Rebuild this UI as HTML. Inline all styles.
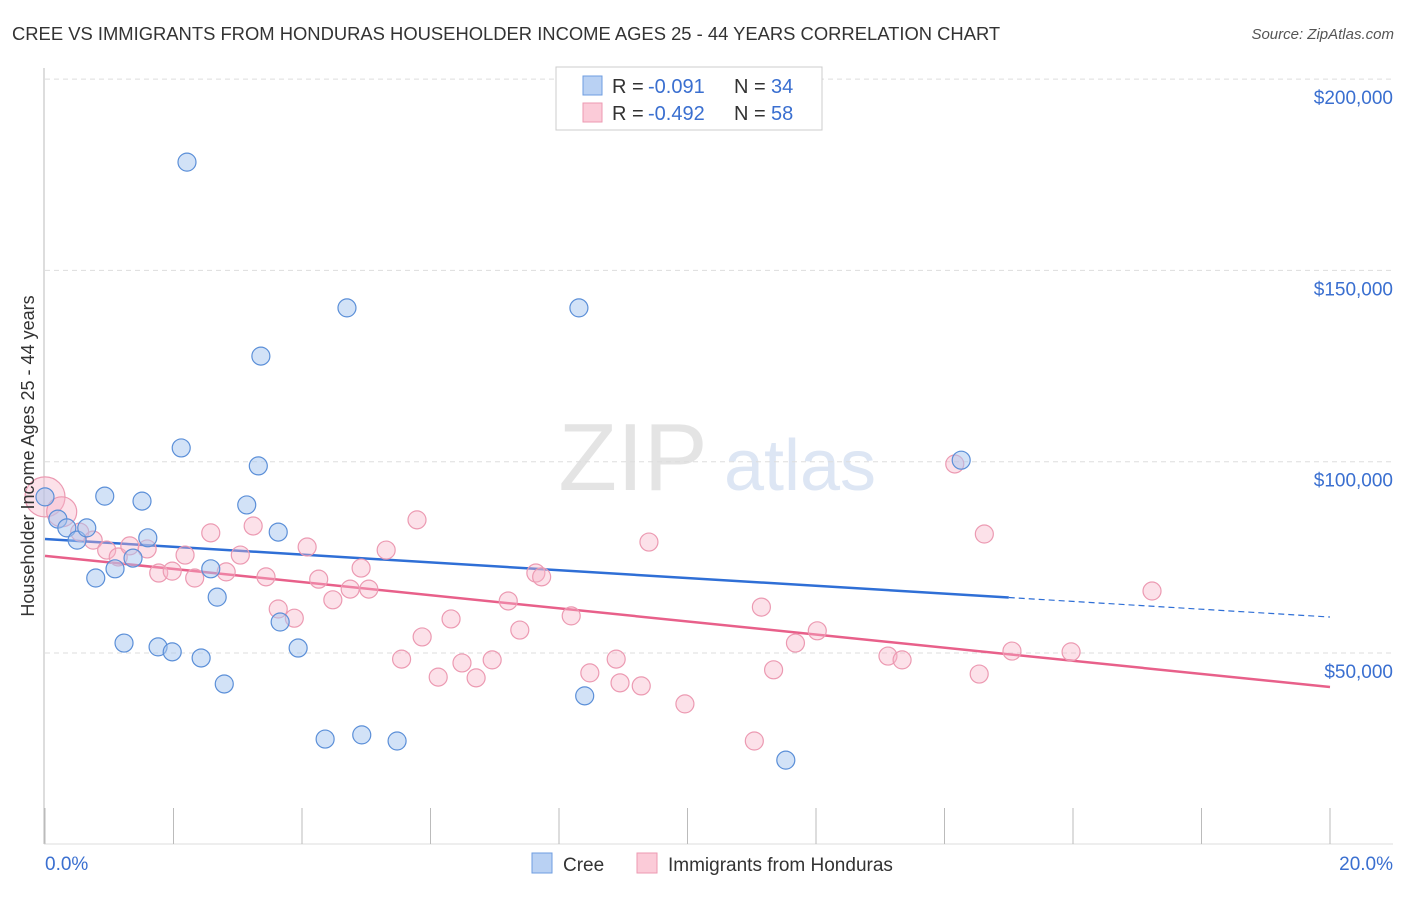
<!DOCTYPE html>
<html><head><meta charset="utf-8"><style>
body{margin:0;background:#fff;font-family:"Liberation Sans",sans-serif;}
svg text{font-family:"Liberation Sans",sans-serif;}
</style></head><body>
<svg id="chart" width="1406" height="892">
<text x="12" y="40" font-size="18.4" fill="#333">CREE VS IMMIGRANTS FROM HONDURAS HOUSEHOLDER INCOME AGES 25 - 44 YEARS CORRELATION CHART</text>
<text x="1394" y="39" font-size="15" fill="#555" text-anchor="end" font-style="italic">Source: ZipAtlas.com</text>
<text x="633" y="490" font-size="96" fill="#e4e4e4" font-family="Liberation Serif" text-anchor="middle">ZIP</text>
<text x="800" y="490" font-size="72" fill="#dde6f4" text-anchor="middle">atlas</text>
<g id="grid"></g><g id="axes"></g><g id="lines"></g><g id="pts"></g>
<text transform="translate(34,456) rotate(-90)" font-size="18" fill="#333" text-anchor="middle">Householder Income Ages 25 - 44 years</text>
<g>
<rect x="556" y="67" width="266" height="63" fill="#fff" stroke="#ccc"/>
<rect x="583" y="76" width="19" height="19" fill="#b9d1f3" stroke="#6e9de0"/>
<text x="612" y="93" font-size="20" fill="#333">R =</text>
<text x="648" y="93" font-size="20" fill="#3a6fd0">-0.091</text>
<text x="734" y="93" font-size="20" fill="#333">N =</text>
<text x="771" y="93" font-size="20" fill="#3a6fd0">34</text>
<rect x="583" y="103" width="19" height="19" fill="#fbcbd8" stroke="#ec9ab2"/>
<text x="612" y="120" font-size="20" fill="#333">R =</text>
<text x="648" y="120" font-size="20" fill="#3a6fd0">-0.492</text>
<text x="734" y="120" font-size="20" fill="#333">N =</text>
<text x="771" y="120" font-size="20" fill="#3a6fd0">58</text>
</g>
<g>
<rect x="532" y="853" width="20" height="20" fill="#b9d1f3" stroke="#6e9de0"/>
<text x="563" y="871" font-size="19" fill="#333">Cree</text>
<rect x="637" y="853" width="20" height="20" fill="#fbcbd8" stroke="#ec9ab2"/>
<text x="668" y="871" font-size="19" fill="#333">Immigrants from Honduras</text>
</g>
</svg>
<script>
const yTicks=[50000,100000,150000,200000];
const yTickLabels=["$50,000","$100,000","$150,000","$200,000"];
const xTickVals=[0,2,4,6,8,10,12,14,16,18,20];
const creeX=[0,0.2,0.34,0.5,0.65,0.79,0.93,1.09,1.37,1.51,1.6,1.23,1.76,1.98,2.12,2.21,2.43,2.58,2.68,2.79,3.14,3.32,3.36,3.63,3.66,3.94,4.36,4.7,4.93,5.48,8.31,8.4,11.53,14.26];
const creeY=[90.8,85.0,82.7,79.5,82.7,69.6,91.0,72.0,74.8,89.7,80.1,52.6,51.6,50.3,103.6,178.3,48.7,72.0,64.6,41.9,88.7,98.9,127.6,81.6,58.1,51.3,27.5,140.2,28.6,27.0,140.2,38.8,22.0,100.4];
const hondX=[0,0.26,0.54,0.75,0.96,1.14,1.32,1.59,1.77,1.98,2.18,2.33,2.58,2.82,3.04,3.24,3.44,3.63,3.88,4.08,4.26,4.48,4.75,4.92,5.04,5.31,5.55,5.79,5.87,6.12,6.32,6.49,6.71,6.96,7.21,7.39,7.64,7.73,8.19,8.48,8.89,8.95,9.28,9.4,9.96,11.04,11.15,11.34,11.68,12.02,13.12,13.34,14.16,14.54,14.62,15.05,15.97,17.23];
const hondY=[90.8,86.9,81.6,79.5,76.9,75.1,78.0,77.2,70.9,71.4,75.6,69.6,81.4,71.2,75.6,83.2,69.9,61.5,59.1,77.7,69.3,63.9,66.7,72.2,66.7,76.9,48.4,84.8,54.2,43.7,58.9,47.4,43.5,48.2,63.6,56.0,70.9,69.9,59.7,44.8,48.4,42.2,41.4,79.0,36.7,27.0,62.0,45.6,52.6,55.8,49.2,48.2,99.4,44.5,81.1,50.5,50.3,66.2];
const hondR=[20,15];
const creeTrend=[79.8,59.4];
const hondTrend=[75.4,41.1];
const creeSolidEnd=15;
const NS="http://www.w3.org/2000/svg";
const xs=p=>45+p*64.25;
const ys=k=>653-(k-50)*3.826;
function mk(tag,at,parent){const e=document.createElementNS(NS,tag);for(const k in at)e.setAttribute(k,at[k]);document.getElementById(parent).appendChild(e);return e;}
yTicks.forEach((v,i)=>{const y=ys(v/1000);
 const l=mk('line',{x1:45,x2:1393,y1:y,y2:y,stroke:'#ddd','stroke-dasharray':'5,4'},'grid');
 
 
 const t=mk('text',{x:1393,y:y+25,'font-size':19,fill:'#3a6fd0','text-anchor':'end'},'grid');t.textContent=yTickLabels[i];
 
 
});
const ax=mk('line',{x1:44,x2:44,y1:68,y2:844,stroke:'#bbb'},'axes');


const bx=mk('line',{x1:44,x2:1393,y1:844,y2:844,stroke:'#ddd'},'axes');


xTickVals.forEach(v=>{const x=xs(v);const t=mk('line',{x1:x,x2:x,y1:808,y2:844,stroke:'#bbb'},'axes');
 
 });
let t0=mk('text',{x:45,y:870,'font-size':19,fill:'#3a6fd0'},'axes');t0.textContent='0.0%';


let t1=mk('text',{x:1393,y:870,'font-size':19,fill:'#3a6fd0','text-anchor':'end'},'axes');t1.textContent='20.0%';


const lin=(tr,x)=>tr[0]+(tr[1]-tr[0])*x/20;
let bl=mk('line',{x1:xs(0),y1:ys(lin(creeTrend,0)),x2:xs(creeSolidEnd),y2:ys(lin(creeTrend,creeSolidEnd)),stroke:'#2f6fd6','stroke-width':2.5},'lines');


let bd=mk('line',{x1:xs(creeSolidEnd),y1:ys(lin(creeTrend,creeSolidEnd)),x2:xs(20),y2:ys(lin(creeTrend,20)),stroke:'#2f6fd6','stroke-width':1.2,'stroke-dasharray':'6,4'},'lines');


let pl=mk('line',{x1:xs(0),y1:ys(lin(hondTrend,0)),x2:xs(20),y2:ys(lin(hondTrend,20)),stroke:'#e8608a','stroke-width':2.5},'lines');


hondX.forEach((x,i)=>{const c=mk('circle',{cx:xs(x),cy:ys(hondY[i]),r:hondR[i]||9,fill:'rgba(248,180,200,0.4)',stroke:'#ec9ab2','stroke-width':1.2},'pts');
 
 });
creeX.forEach((x,i)=>{const c=mk('circle',{cx:xs(x),cy:ys(creeY[i]),r:9,fill:'rgba(165,198,240,0.5)',stroke:'#5b8fd8','stroke-width':1.2},'pts');
 
 });
</script>
</body></html>
